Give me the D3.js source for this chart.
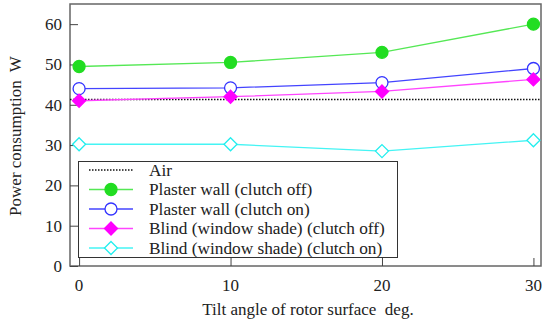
<!DOCTYPE html>
<meta charset="utf-8">
<script src="https://d3js.org/d3.v7.min.js"></script>
<style>
  body { margin: 0; background: #fff; }
  text { font-family: "Liberation Serif", "Times New Roman", serif; fill: #222; white-space: pre; }
</style>
<svg id="chart" width="545" height="329"></svg>
<script>
// data
var angles = [0, 10, 20, 30];
var airLevel = 41.3;
var plasterOff = [49.5, 50.5, 53.0, 60.0];
var plasterOn = [44.0, 44.2, 45.5, 49.0];
var blindOff = [41.0, 42.0, 43.3, 46.3];
var blindOn = [30.2, 30.2, 28.5, 31.2];
var yTicks = [0, 10, 20, 30, 40, 50, 60];
var xTicks = [0, 10, 20, 30];

var series = [
  {name: "Plaster wall (clutch off)", values: plasterOff, color: "#22dd22", line: "#55e855", shape: "circle", fill: true},
  {name: "Plaster wall (clutch on)", values: plasterOn, color: "#3333ff", line: "#4444ff", shape: "circle", fill: false},
  {name: "Blind (window shade) (clutch off)", values: blindOff, color: "#ff00ff", line: "#ff44ff", shape: "diamond", fill: true},
  {name: "Blind (window shade) (clutch on)", values: blindOn, color: "#22eeee", line: "#44f4f4", shape: "diamond", fill: false}
];

var svg = d3.select("#chart");
var pLeft = 70, pRight = 541, pTop = 4, pBottom = 266;

var x = d3.scaleLinear().domain([-0.6, 30.5]).range([pLeft, pRight]);
var y = d3.scaleLinear().domain([0, 65]).range([pBottom, pTop]);

// frame
svg.append("rect")
  .attr("x", pLeft).attr("y", pTop)
  .attr("width", pRight - pLeft).attr("height", pBottom - pTop)
  .attr("fill", "none").attr("stroke", "#666").attr("stroke-width", 1.5);

// axes with inward ticks
svg.append("g")
  .attr("transform", "translate(" + pLeft + ",0)")
  .call(d3.axisRight(y).tickValues(yTicks).tickSize(8).tickFormat(""))
  .call(function(g){ g.select(".domain").remove(); g.selectAll("line").attr("stroke", "#444"); });

svg.append("g")
  .attr("transform", "translate(0," + pBottom + ")")
  .call(d3.axisTop(x).tickValues(xTicks).tickSize(8).tickFormat(""))
  .call(function(g){ g.select(".domain").remove(); g.selectAll("line").attr("stroke", "#444"); });

svg.selectAll(".ylab").data(yTicks).enter().append("text")
  .attr("x", 62).attr("y", function(d){ return y(d) + 6; })
  .attr("text-anchor", "end").attr("font-size", 17)
  .text(function(d){ return d; });

svg.selectAll(".xlab").data(xTicks).enter().append("text")
  .attr("x", function(d){ return x(d); }).attr("y", 291)
  .attr("text-anchor", "middle").attr("font-size", 17)
  .text(function(d){ return d; });

svg.append("text")
  .attr("x", 308).attr("y", 315)
  .attr("text-anchor", "middle").attr("font-size", 17)
  .text("Tilt angle of rotor surface  deg.");

svg.append("text")
  .attr("transform", "translate(21,136) rotate(-90)")
  .attr("text-anchor", "middle").attr("font-size", 17)
  .text("Power consumption  W");

// air line
svg.append("line")
  .attr("x1", pLeft).attr("x2", pRight)
  .attr("y1", y(airLevel)).attr("y2", y(airLevel))
  .attr("stroke", "#111").attr("stroke-width", 1.5).attr("stroke-dasharray", "1.5,1.5");

function drawMarker(g, s, cx, cy) {
  if (s.shape === "circle") {
    g.append("circle").attr("cx", cx).attr("cy", cy).attr("r", 6)
      .attr("fill", s.fill ? s.color : "#fff").attr("stroke", s.color).attr("stroke-width", 1.3);
  } else {
    var r = 6.5;
    g.append("path")
      .attr("d", "M" + cx + "," + (cy - r) + "L" + (cx + r) + "," + cy + "L" + cx + "," + (cy + r) + "L" + (cx - r) + "," + cy + "Z")
      .attr("fill", s.fill ? s.color : "#fff").attr("stroke", s.color).attr("stroke-width", 1.3);
  }
}

var line = d3.line().x(function(d, i){ return x(angles[i]); }).y(function(d){ return y(d); });

series.forEach(function(s){
  var g = svg.append("g");
  g.append("path").attr("d", line(s.values))
    .attr("fill", "none").attr("stroke", s.line).attr("stroke-width", 1.3);
  s.values.forEach(function(v, i){ drawMarker(g, s, x(angles[i]), y(v)); });
});

// legend
var lg = svg.append("g");
lg.append("rect").attr("x", 78.5).attr("y", 161.5).attr("width", 319).attr("height", 96)
  .attr("fill", "#fff").attr("stroke", "#333").attr("stroke-width", 1);

var rowY = [170, 189.5, 209, 228.5, 248];
lg.append("line").attr("x1", 89).attr("x2", 133).attr("y1", rowY[0]).attr("y2", rowY[0])
  .attr("stroke", "#111").attr("stroke-width", 1.5).attr("stroke-dasharray", "1.5,1.5");
lg.append("text").attr("x", 149).attr("y", rowY[0] + 5.5).attr("font-size", 17.3).text("Air");

series.forEach(function(s, i){
  var yy = rowY[i + 1];
  lg.append("line").attr("x1", 89).attr("x2", 133).attr("y1", yy).attr("y2", yy)
    .attr("stroke", s.line).attr("stroke-width", 1.3);
  drawMarker(lg, s, 111, yy);
  lg.append("text").attr("x", 149).attr("y", yy + 5.5).attr("font-size", 17.3).text(s.name);
});
</script>
